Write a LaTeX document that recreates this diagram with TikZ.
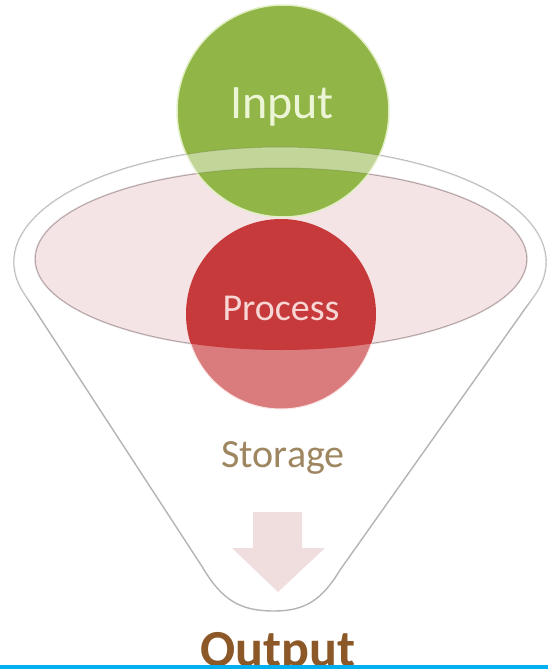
\documentclass[tikz,border=0pt]{standalone}
\usepackage{fontspec}
\setmainfont{Carlito}
\usepackage{tikz}
\usetikzlibrary{arrows.meta}

\definecolor{inputgreen}{RGB}{146,181,72}
\definecolor{inputrim}{RGB}{226,238,196}
\definecolor{inputtext}{RGB}{236,246,214}
\definecolor{processred}{RGB}{198,58,60}
\definecolor{processlight}{RGB}{218,124,126}
\definecolor{processtext}{RGB}{248,214,212}
\definecolor{bowlpink}{RGB}{244,228,230}
\definecolor{bowlline}{RGB}{168,148,150}
\definecolor{funnelline}{RGB}{180,180,180}
\definecolor{storagetext}{RGB}{158,134,96}
\definecolor{arrowpink}{RGB}{240,222,223}
\definecolor{outputtext}{RGB}{140,88,40}
\definecolor{barblue}{RGB}{0,176,240}

\tikzset{
  label text/.style={anchor=base, inner sep=0pt},
  funnel edge/.style={draw=funnelline, line width=1.4pt, line join=round}
}

\begin{document}
\begin{tikzpicture}[x=1pt, y=-1pt]
\useasboundingbox (0,0) rectangle (548,669);
\coordinate (top) at (280,262);
\coordinate (bowl) at (281,259);
\coordinate (in) at (283,111);
\coordinate (proc) at (281,314);
\coordinate (fl) at (24.3,293.7);
\coordinate (fr) at (535.7,293.7);
\coordinate (bl) at (203,568);
\coordinate (br) at (340,570);
\coordinate (bot) at (274,611);
% draws funnel
\filldraw[funnel edge, fill=white] (fl) arc[start angle=164, end angle=376, x radius=266, y radius=115]
  -- (br) .. controls (322,600) and (305,611) .. (bot)
  .. controls (240,611) and (222,600) .. (bl) -- cycle;
% draws bowl
\filldraw[fill=bowlpink, draw=bowlline, line width=1.3pt] (bowl) ellipse[x radius=246, y radius=91];
% draws input circle
\filldraw[fill=inputgreen, draw=inputrim, line width=1.5pt] (in) circle[radius=106];
% draws rim band
\fill[white, opacity=0.45, even odd rule] (top) ellipse[x radius=266, y radius=115] (bowl) ellipse[x radius=246, y radius=91];
\begin{scope}
\clip (in) circle[radius=106];
\draw[inputgreen!70!black, opacity=0.35, line width=1pt] (top) ellipse[x radius=266, y radius=115];
\draw[inputgreen!70!black, opacity=0.35, line width=1pt] (bowl) ellipse[x radius=246, y radius=91];
\end{scope}
% draws process circle
\filldraw[fill=processlight, draw=processtext!60!white, line width=1pt] (proc) circle[radius=95];
\begin{scope}
\clip (bowl) ellipse[x radius=246, y radius=91];
\fill[processred] (proc) circle[radius=95];
\end{scope}
% draws arrow
\fill[arrowpink] (253,512) -- (302,512) -- (302,548) -- (325,548) -- (278,592)
  -- (232,548) -- (253,548) -- cycle;
% labels
\node[label text, text=inputtext, font=\fontsize{48}{58}\selectfont] (inputlabel) at (282,118) {Input};
\node[label text, text=processtext, font=\fontsize{38}{46}\selectfont] (processlabel) at (281,320) {Process};
\node[label text, text=storagetext, font=\fontsize{40}{48}\selectfont] (storagelabel) at (283,467) {Storage};
\node[label text, text=outputtext, font=\bfseries\fontsize{52}{62}\selectfont] (outputlabel) at (278,666) {Output};
% draws bottom bar
\fill[barblue] (0,665) rectangle (548,669);
\end{tikzpicture}
\end{document}
